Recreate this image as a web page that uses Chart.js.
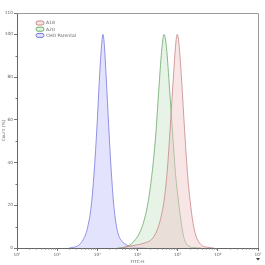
<!DOCTYPE html>
<html>
<head>
<meta charset="utf-8">
<script src="https://cdn.jsdelivr.net/npm/chart.js@4/dist/chart.umd.min.js"></script>
<style>
  html, body { margin: 0; padding: 0; background: #fff; }
  #wrap { width: 265px; height: 265px; position: relative; }
</style>
</head>
<body>
<div id="wrap"><canvas id="c"></canvas></div>
<script>
// x values are log10(FITC-H), y values are Count (%) normalised to mode
const seriesLabels = ["A18", "A20", "CHO Parental"];

const a18X = [3.60, 3.80, 4.00, 4.20, 4.35, 4.48, 4.58, 4.66, 4.74, 4.82, 4.90, 4.96, 4.99, 5.03, 5.10, 5.17, 5.24, 5.31, 5.38, 5.45, 5.52, 5.62, 5.75, 5.90];
const a18Y = [0, 0.8, 1.5, 2.5, 4, 8, 14, 22, 36, 58, 82, 97, 100, 96, 78, 56, 36, 22, 12, 6, 3, 1, 0.3, 0];

const a20X = [3.50, 3.70, 3.85, 3.95, 4.05, 4.15, 4.25, 4.35, 4.45, 4.53, 4.60, 4.66, 4.72, 4.80, 4.88, 4.95, 5.02, 5.08, 5.14, 5.20, 5.28, 5.40, 5.60];
const a20Y = [0, 0.5, 2, 4, 7, 12, 20, 33, 52, 74, 92, 100, 94, 74, 52, 34, 22, 13, 6, 2.5, 0.8, 0.2, 0];

const choX = [2.30, 2.45, 2.55, 2.65, 2.75, 2.85, 2.93, 3.00, 3.06, 3.11, 3.14, 3.17, 3.22, 3.28, 3.34, 3.40, 3.46, 3.53, 3.62, 3.72, 3.85, 4.00, 4.20];
const choY = [0, 0.5, 1.5, 4, 9, 20, 38, 60, 82, 96, 100, 96, 80, 58, 38, 22, 12, 6, 3, 1.5, 0.6, 0.2, 0];

const xDecades = [1, 2, 3, 4, 5, 6, 7];
const yTicks = [0, 20, 40, 60, 80, 100, 110];

const sup = {"0":"⁰","1":"¹","2":"²","3":"³","4":"⁴","5":"⁵","6":"⁶","7":"⁷","8":"⁸","9":"⁹"};

function pts(xs, ys) { return xs.map((x, i) => ({x: x, y: ys[i]})); }

const lineCols = ["rgb(200,135,135)", "rgb(105,170,105)", "rgb(120,120,222)"];
const fillCols = ["rgba(240,200,200,0.45)", "rgba(205,232,205,0.5)", "rgba(218,218,252,0.75)"];

// frame, minor ticks and the little legend in the upper left
const extras = {
  id: "extras",
  afterDraw(chart) {
    const ctx = chart.ctx, a = chart.chartArea;
    const xs = chart.scales.x, ys = chart.scales.y;
    ctx.save();
    ctx.strokeStyle = "#9a9a9a";
    ctx.lineWidth = 1;
    ctx.beginPath();
    ctx.moveTo(a.left, a.top + 0.5); ctx.lineTo(a.right + 0.5, a.top + 0.5);
    ctx.lineTo(a.right + 0.5, a.bottom);
    ctx.stroke();
    // log minor ticks
    ctx.strokeStyle = "#777";
    ctx.beginPath();
    for (let d = 1; d < 7; d++) {
      for (let k = 2; k <= 9; k++) {
        const px = Math.round(xs.getPixelForValue(d + Math.log10(k))) + 0.5;
        ctx.moveTo(px, a.bottom); ctx.lineTo(px, a.bottom + 1.5);
      }
    }
    for (let v = 10; v < 110; v += 20) {
      const py = Math.round(ys.getPixelForValue(v)) + 0.5;
      ctx.moveTo(a.left, py); ctx.lineTo(a.left - 1.5, py);
    }
    ctx.stroke();
    // legend
    ctx.font = "4.5px 'DejaVu Sans'";
    ctx.textBaseline = "middle";
    chart.data.datasets.forEach((ds, i) => {
      const bx = a.left + 19, by = a.top + 10 + i * 6.2;
      ctx.fillStyle = ds.backgroundColor;
      ctx.strokeStyle = ds.borderColor;
      ctx.beginPath();
      ctx.roundRect(bx, by - 2, 8, 4, 2);
      ctx.fill(); ctx.stroke();
      ctx.fillStyle = "#666";
      ctx.fillText(ds.label, bx + 10, by + 0.3);
    });
    // small marker under the axis end
    ctx.fillStyle = "#333";
    ctx.beginPath();
    ctx.moveTo(a.right - 2, a.bottom + 10); ctx.lineTo(a.right + 2, a.bottom + 10); ctx.lineTo(a.right, a.bottom + 12.5);
    ctx.fill();
    ctx.restore();
  }
};

new Chart(document.getElementById("c"), {
  type: "line",
  data: {
    datasets: [
      {label: seriesLabels[0], data: pts(a18X, a18Y), borderColor: lineCols[0], backgroundColor: fillCols[0]},
      {label: seriesLabels[1], data: pts(a20X, a20Y), borderColor: lineCols[1], backgroundColor: fillCols[1]},
      {label: seriesLabels[2], data: pts(choX, choY), borderColor: lineCols[2], backgroundColor: fillCols[2]}
    ].map(d => Object.assign(d, {fill: "origin", borderWidth: 0.8, pointRadius: 0, cubicInterpolationMode: "monotone"}))
  },
  options: {
    responsive: true,
    maintainAspectRatio: false,
    animation: false,
    layout: {padding: {left: 0, right: 7, top: 13, bottom: 0}},
    plugins: {legend: {display: false}, tooltip: {enabled: false}},
    scales: {
      x: {
        type: "linear", min: 1, max: 7,
        afterBuildTicks: s => { s.ticks = xDecades.map(v => ({value: v})); },
        afterFit: s => { s.height = 17; },
        ticks: {
          color: "#666", font: {size: 4.3, family: "DejaVu Sans"}, padding: 1, maxRotation: 0,
          callback: v => "10" + String(v).split("").map(c => sup[c]).join("")
        },
        grid: {drawOnChartArea: false, tickLength: 3, color: "#777"},
        border: {color: "#666", width: 1},
        title: {display: true, text: "FITC-H", color: "#666", font: {size: 4.3, family: "DejaVu Sans"}, padding: {top: 1, bottom: 1}}
      },
      y: {
        min: 0, max: 110,
        afterBuildTicks: s => { s.ticks = yTicks.map(v => ({value: v})); },
        afterFit: s => { s.width = 17; },
        ticks: {color: "#666", font: {size: 4.3, family: "DejaVu Sans"}, padding: 1},
        grid: {drawOnChartArea: false, tickLength: 3, color: "#777"},
        border: {color: "#666", width: 1},
        title: {display: true, text: "Count (%)", color: "#666", font: {size: 4.3, family: "DejaVu Sans"}, padding: {top: 1, bottom: 1}}
      }
    }
  },
  plugins: [extras]
});
</script>
</body>
</html>
